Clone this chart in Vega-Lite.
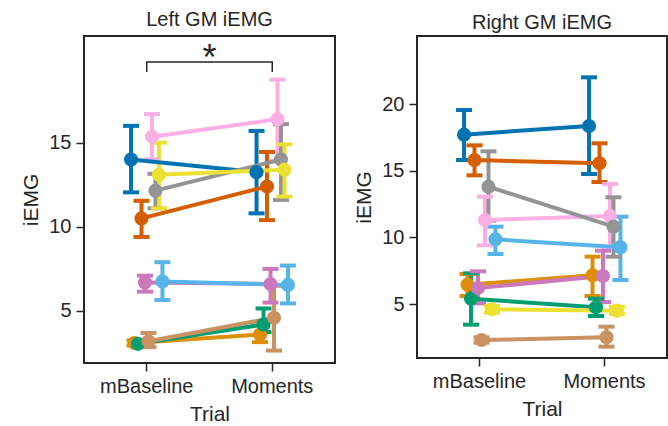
{
  "$schema": "https://vega.github.io/schema/vega-lite/v6.json",
  "background": "white",
  "padding": {"left": 19, "top": 9, "right": 0, "bottom": 0},
  "spacing": 16,
  "config": {
    "font": "Liberation Sans",
    "view": {"stroke": "#262626", "strokeWidth": 2},
    "axis": {"labelFont": "Liberation Sans", "labelFontSize": 20, "labelColor": "#262626", "titleFont": "Liberation Sans", "titleFontSize": 21, "titleFontWeight": "normal", "titleColor": "#262626", "tickColor": "#262626", "tickSize": 8, "tickWidth": 1.5, "domain": false, "grid": false, "labelPadding": 5, "titlePadding": 7},
    "title": {"font": "Liberation Sans", "fontSize": 20, "fontWeight": "normal", "color": "#262626", "offset": 6}
  },
  "datasets": {
    "left": [
      {"Subject": "S1", "Trial": "mBaseline", "mean": 14.0, "lo": 12.05, "hi": 16.0},
      {"Subject": "S1", "Trial": "Moments", "mean": 13.25, "lo": 10.8, "hi": 15.7},
      {"Subject": "S2", "Trial": "mBaseline", "mean": 3.1, "lo": 2.95, "hi": 3.25},
      {"Subject": "S2", "Trial": "Moments", "mean": 3.6, "lo": 3.15, "hi": 4.15},
      {"Subject": "S3", "Trial": "mBaseline", "mean": 3.05, "lo": 2.9, "hi": 3.2},
      {"Subject": "S3", "Trial": "Moments", "mean": 4.2, "lo": 3.75, "hi": 5.15},
      {"Subject": "S4", "Trial": "mBaseline", "mean": 10.5, "lo": 9.4, "hi": 11.55},
      {"Subject": "S4", "Trial": "Moments", "mean": 12.4, "lo": 10.4, "hi": 14.45},
      {"Subject": "S5", "Trial": "mBaseline", "mean": 6.7, "lo": 6.15, "hi": 7.1},
      {"Subject": "S5", "Trial": "Moments", "mean": 6.6, "lo": 5.5, "hi": 7.5},
      {"Subject": "S6", "Trial": "mBaseline", "mean": 3.2, "lo": 2.85, "hi": 3.7},
      {"Subject": "S6", "Trial": "Moments", "mean": 4.6, "lo": 2.65, "hi": 6.5},
      {"Subject": "S7", "Trial": "mBaseline", "mean": 15.35, "lo": 14.0, "hi": 16.7},
      {"Subject": "S7", "Trial": "Moments", "mean": 16.4, "lo": 13.9, "hi": 18.75},
      {"Subject": "S8", "Trial": "mBaseline", "mean": 12.15, "lo": 11.1, "hi": 13.15},
      {"Subject": "S8", "Trial": "Moments", "mean": 14.0, "lo": 11.6, "hi": 16.1},
      {"Subject": "S9", "Trial": "mBaseline", "mean": 13.1, "lo": 11.1, "hi": 15.0},
      {"Subject": "S9", "Trial": "Moments", "mean": 13.4, "lo": 11.8, "hi": 14.9},
      {"Subject": "S10", "Trial": "mBaseline", "mean": 6.75, "lo": 5.65, "hi": 7.9},
      {"Subject": "S10", "Trial": "Moments", "mean": 6.55, "lo": 5.45, "hi": 7.7}
    ],
    "right": [
      {"Subject": "S1", "Trial": "mBaseline", "mean": 17.7, "lo": 15.8, "hi": 19.55},
      {"Subject": "S1", "Trial": "Moments", "mean": 18.35, "lo": 14.75, "hi": 22.0},
      {"Subject": "S2", "Trial": "mBaseline", "mean": 6.45, "lo": 5.6, "hi": 7.25},
      {"Subject": "S2", "Trial": "Moments", "mean": 7.15, "lo": 5.6, "hi": 8.55},
      {"Subject": "S3", "Trial": "mBaseline", "mean": 5.4, "lo": 3.45, "hi": 7.3},
      {"Subject": "S3", "Trial": "Moments", "mean": 4.75, "lo": 4.1, "hi": 5.4},
      {"Subject": "S4", "Trial": "mBaseline", "mean": 15.8, "lo": 14.65, "hi": 16.9},
      {"Subject": "S4", "Trial": "Moments", "mean": 15.55, "lo": 14.15, "hi": 17.05},
      {"Subject": "S5", "Trial": "mBaseline", "mean": 6.2, "lo": 5.05, "hi": 7.45},
      {"Subject": "S5", "Trial": "Moments", "mean": 7.1, "lo": 5.15, "hi": 9.0},
      {"Subject": "S6", "Trial": "mBaseline", "mean": 2.3, "lo": 2.1, "hi": 2.5},
      {"Subject": "S6", "Trial": "Moments", "mean": 2.5, "lo": 1.8, "hi": 3.3},
      {"Subject": "S7", "Trial": "mBaseline", "mean": 11.3, "lo": 9.4, "hi": 13.05},
      {"Subject": "S7", "Trial": "Moments", "mean": 11.6, "lo": 9.3, "hi": 14.0},
      {"Subject": "S8", "Trial": "mBaseline", "mean": 13.8, "lo": 11.25, "hi": 16.45},
      {"Subject": "S8", "Trial": "Moments", "mean": 10.8, "lo": 8.55, "hi": 13.0},
      {"Subject": "S9", "Trial": "mBaseline", "mean": 4.6, "lo": 4.35, "hi": 4.85},
      {"Subject": "S9", "Trial": "Moments", "mean": 4.5, "lo": 4.25, "hi": 4.8},
      {"Subject": "S10", "Trial": "mBaseline", "mean": 9.85, "lo": 8.75, "hi": 10.8},
      {"Subject": "S10", "Trial": "Moments", "mean": 9.25, "lo": 6.8, "hi": 11.55}
    ],
    "bracket": [
      {"Trial": "mBaseline", "y": 19.2, "k": 0},
      {"Trial": "mBaseline", "y": 19.8, "k": 1},
      {"Trial": "Moments", "y": 19.8, "k": 2},
      {"Trial": "Moments", "y": 19.2, "k": 3}
    ],
    "star": [{"label": "*", "Trial": "mBaseline", "y": 20.0}]
  },
  "hconcat": [
    {
      "title": "Left GM iEMG",
      "width": 251,
      "height": 327,
      "layer": [
        {
          "data": {"name": "left"},
          "mark": {"type": "rule", "strokeWidth": 4},
          "encoding": {
            "x": {"field": "Trial", "type": "nominal", "scale": {"type": "band", "paddingInner": 0, "paddingOuter": 0, "domain": ["mBaseline", "Moments"]}, "axis": {"labelAngle": 0, "title": "Trial", "bandPosition": 0.5}},
            "xOffset": {"field": "Subject", "type": "nominal", "scale": {"type": "point", "padding": 0, "domain": ["S1","S2","S3","S4","S5","S6","S7","S8","S9","S10"], "range": [47.05, 78.45]}},
            "color": {"field": "Subject", "type": "nominal", "scale": {"domain": ["S1","S2","S3","S4","S5","S6","S7","S8","S9","S10"], "range": ["#0173B2","#DE8F05","#029E73","#D55E00","#CC78BC","#CA9161","#FBAFE4","#949494","#ECE133","#56B4E9"]}, "legend": null},
            "y": {"field": "lo", "type": "quantitative", "title": "iEMG", "scale": {"domain": [1.91, 21.34], "nice": false, "zero": false}, "axis": {"values": [5, 10, 15]}},
            "y2": {"field": "hi"}
          }
        },
        {
          "data": {"name": "left"},
          "mark": {"type": "tick", "thickness": 4, "size": 16, "opacity": 1},
          "encoding": {
            "x": {"field": "Trial", "type": "nominal"},
            "xOffset": {"field": "Subject", "type": "nominal"},
            "color": {"field": "Subject", "type": "nominal"},
            "y": {"field": "lo", "type": "quantitative", "title": "iEMG"}
          }
        },
        {
          "data": {"name": "left"},
          "mark": {"type": "tick", "thickness": 4, "size": 16, "opacity": 1},
          "encoding": {
            "x": {"field": "Trial", "type": "nominal"},
            "xOffset": {"field": "Subject", "type": "nominal"},
            "color": {"field": "Subject", "type": "nominal"},
            "y": {"field": "hi", "type": "quantitative", "title": "iEMG"}
          }
        },
        {
          "data": {"name": "left"},
          "mark": {"type": "line", "strokeWidth": 4},
          "encoding": {
            "x": {"field": "Trial", "type": "nominal"},
            "xOffset": {"field": "Subject", "type": "nominal"},
            "color": {"field": "Subject", "type": "nominal"},
            "y": {"field": "mean", "type": "quantitative", "title": "iEMG"}
          }
        },
        {
          "data": {"name": "left"},
          "mark": {"type": "point", "filled": true, "size": 200, "opacity": 1},
          "encoding": {
            "x": {"field": "Trial", "type": "nominal"},
            "xOffset": {"field": "Subject", "type": "nominal"},
            "color": {"field": "Subject", "type": "nominal"},
            "y": {"field": "mean", "type": "quantitative", "title": "iEMG"}
          }
        },
        {
          "data": {"name": "bracket"},
          "mark": {"type": "line", "strokeWidth": 1.5, "color": "#262626"},
          "encoding": {
            "x": {"field": "Trial", "type": "nominal", "bandPosition": 0.5},
            "y": {"field": "y", "type": "quantitative", "title": "iEMG"},
            "order": {"field": "k"}
          }
        },
        {
          "data": {"name": "star"},
          "mark": {"type": "text", "fontSize": 36, "color": "#262626", "baseline": "middle", "align": "center"},
          "encoding": {
            "x": {"field": "Trial", "type": "nominal", "bandPosition": 1},
            "y": {"field": "y", "type": "quantitative", "title": "iEMG"},
            "text": {"field": "label"}
          }
        }
      ]
    },
    {
      "title": {"text": "Right GM iEMG", "offset": 3},
      "width": 250,
      "height": 322,
      "data": {"name": "right"},
      "layer": [
        {
          "mark": {"type": "rule", "strokeWidth": 4},
          "encoding": {
            "x": {"field": "Trial", "type": "nominal", "scale": {"type": "band", "paddingInner": 0, "paddingOuter": 0, "domain": ["mBaseline", "Moments"]}, "axis": {"labelAngle": 0, "title": "Trial", "bandPosition": 0.5}},
            "xOffset": {"field": "Subject", "type": "nominal", "scale": {"type": "point", "padding": 0, "domain": ["S1","S2","S3","S4","S5","S6","S7","S8","S9","S10"], "range": [46.9, 78.1]}},
            "color": {"field": "Subject", "type": "nominal", "scale": {"domain": ["S1","S2","S3","S4","S5","S6","S7","S8","S9","S10"], "range": ["#0173B2","#DE8F05","#029E73","#D55E00","#CC78BC","#CA9161","#FBAFE4","#949494","#ECE133","#56B4E9"]}, "legend": null},
            "y": {"field": "lo", "type": "quantitative", "title": "iEMG", "scale": {"domain": [0.95, 25.1], "nice": false, "zero": false}, "axis": {"values": [5, 10, 15, 20]}},
            "y2": {"field": "hi"}
          }
        },
        {
          "mark": {"type": "tick", "thickness": 4, "size": 16, "opacity": 1},
          "encoding": {
            "x": {"field": "Trial", "type": "nominal"},
            "xOffset": {"field": "Subject", "type": "nominal"},
            "color": {"field": "Subject", "type": "nominal"},
            "y": {"field": "lo", "type": "quantitative", "title": "iEMG"}
          }
        },
        {
          "mark": {"type": "tick", "thickness": 4, "size": 16, "opacity": 1},
          "encoding": {
            "x": {"field": "Trial", "type": "nominal"},
            "xOffset": {"field": "Subject", "type": "nominal"},
            "color": {"field": "Subject", "type": "nominal"},
            "y": {"field": "hi", "type": "quantitative", "title": "iEMG"}
          }
        },
        {
          "mark": {"type": "line", "strokeWidth": 4},
          "encoding": {
            "x": {"field": "Trial", "type": "nominal"},
            "xOffset": {"field": "Subject", "type": "nominal"},
            "color": {"field": "Subject", "type": "nominal"},
            "y": {"field": "mean", "type": "quantitative", "title": "iEMG"}
          }
        },
        {
          "mark": {"type": "point", "filled": true, "size": 200, "opacity": 1},
          "encoding": {
            "x": {"field": "Trial", "type": "nominal"},
            "xOffset": {"field": "Subject", "type": "nominal"},
            "color": {"field": "Subject", "type": "nominal"},
            "y": {"field": "mean", "type": "quantitative", "title": "iEMG"}
          }
        }
      ]
    }
  ]
}
